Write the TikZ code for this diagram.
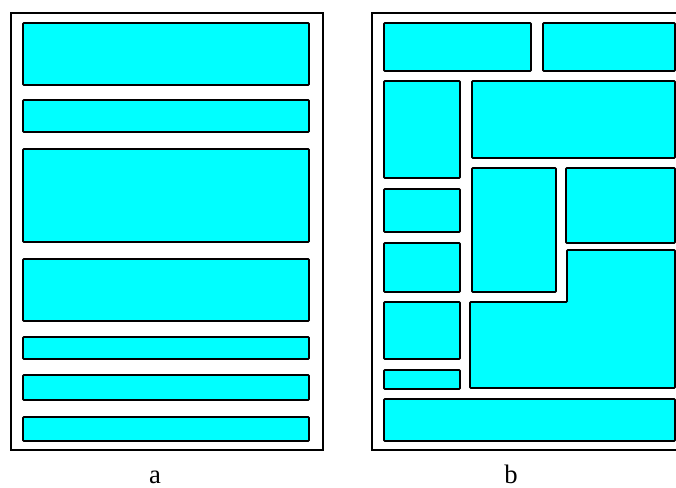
\documentclass[tikz,border=0pt]{standalone}
\usepackage{fontspec}
\setmainfont{Liberation Serif}
\usepackage{tikz}

\definecolor{boxcyan}{RGB}{0,255,255}
\tikzset{
  frame/.style={draw=black,line width=1.1pt},
  block/.style={draw=black,fill=boxcyan,line width=1.2pt,rounded corners=0.6pt},
  lbl/.style={font=\fontsize{20}{24}\selectfont,anchor=base,inner sep=0pt}
}

\begin{document}
\begin{tikzpicture}[x=0.75pt,y=-0.75pt]
  \useasboundingbox (0,0) rectangle (676,487);
  \begin{scope}
  \clip (0,0) rectangle (676,487);
  % panel a
  \draw[frame] (11,13) rectangle (323,450);
  \foreach \t/\b in {23/85,100/132,149/242,259/321,337/359,375/400,417/441}
    \draw[block] (23,\t) rectangle (309,\b);
  % panel b
  \draw[frame] (372,13) rectangle (700,450);
  \draw[block] (384,23) rectangle (531,71);
  \draw[block] (543,23) rectangle (675,71);
  \draw[block] (472,81) rectangle (675,158);
  \foreach \t/\b in {81/178,189/232,243/292,302/359,370/389}
    \draw[block] (384,\t) rectangle (460,\b);
  \draw[block] (472,168) rectangle (556,292);
  \draw[block] (566,168) rectangle (675,243);
  \draw[block] (470,302) -- (567,302) -- (567,250) -- (675,250)
    -- (675,388) -- (470,388) -- cycle;
  \draw[block] (384,399) rectangle (675,441);
  \end{scope}
  \node[lbl] (capa) at (155,483) {a};
  \node[lbl] (capb) at (511,483) {b};
\end{tikzpicture}
\end{document}
